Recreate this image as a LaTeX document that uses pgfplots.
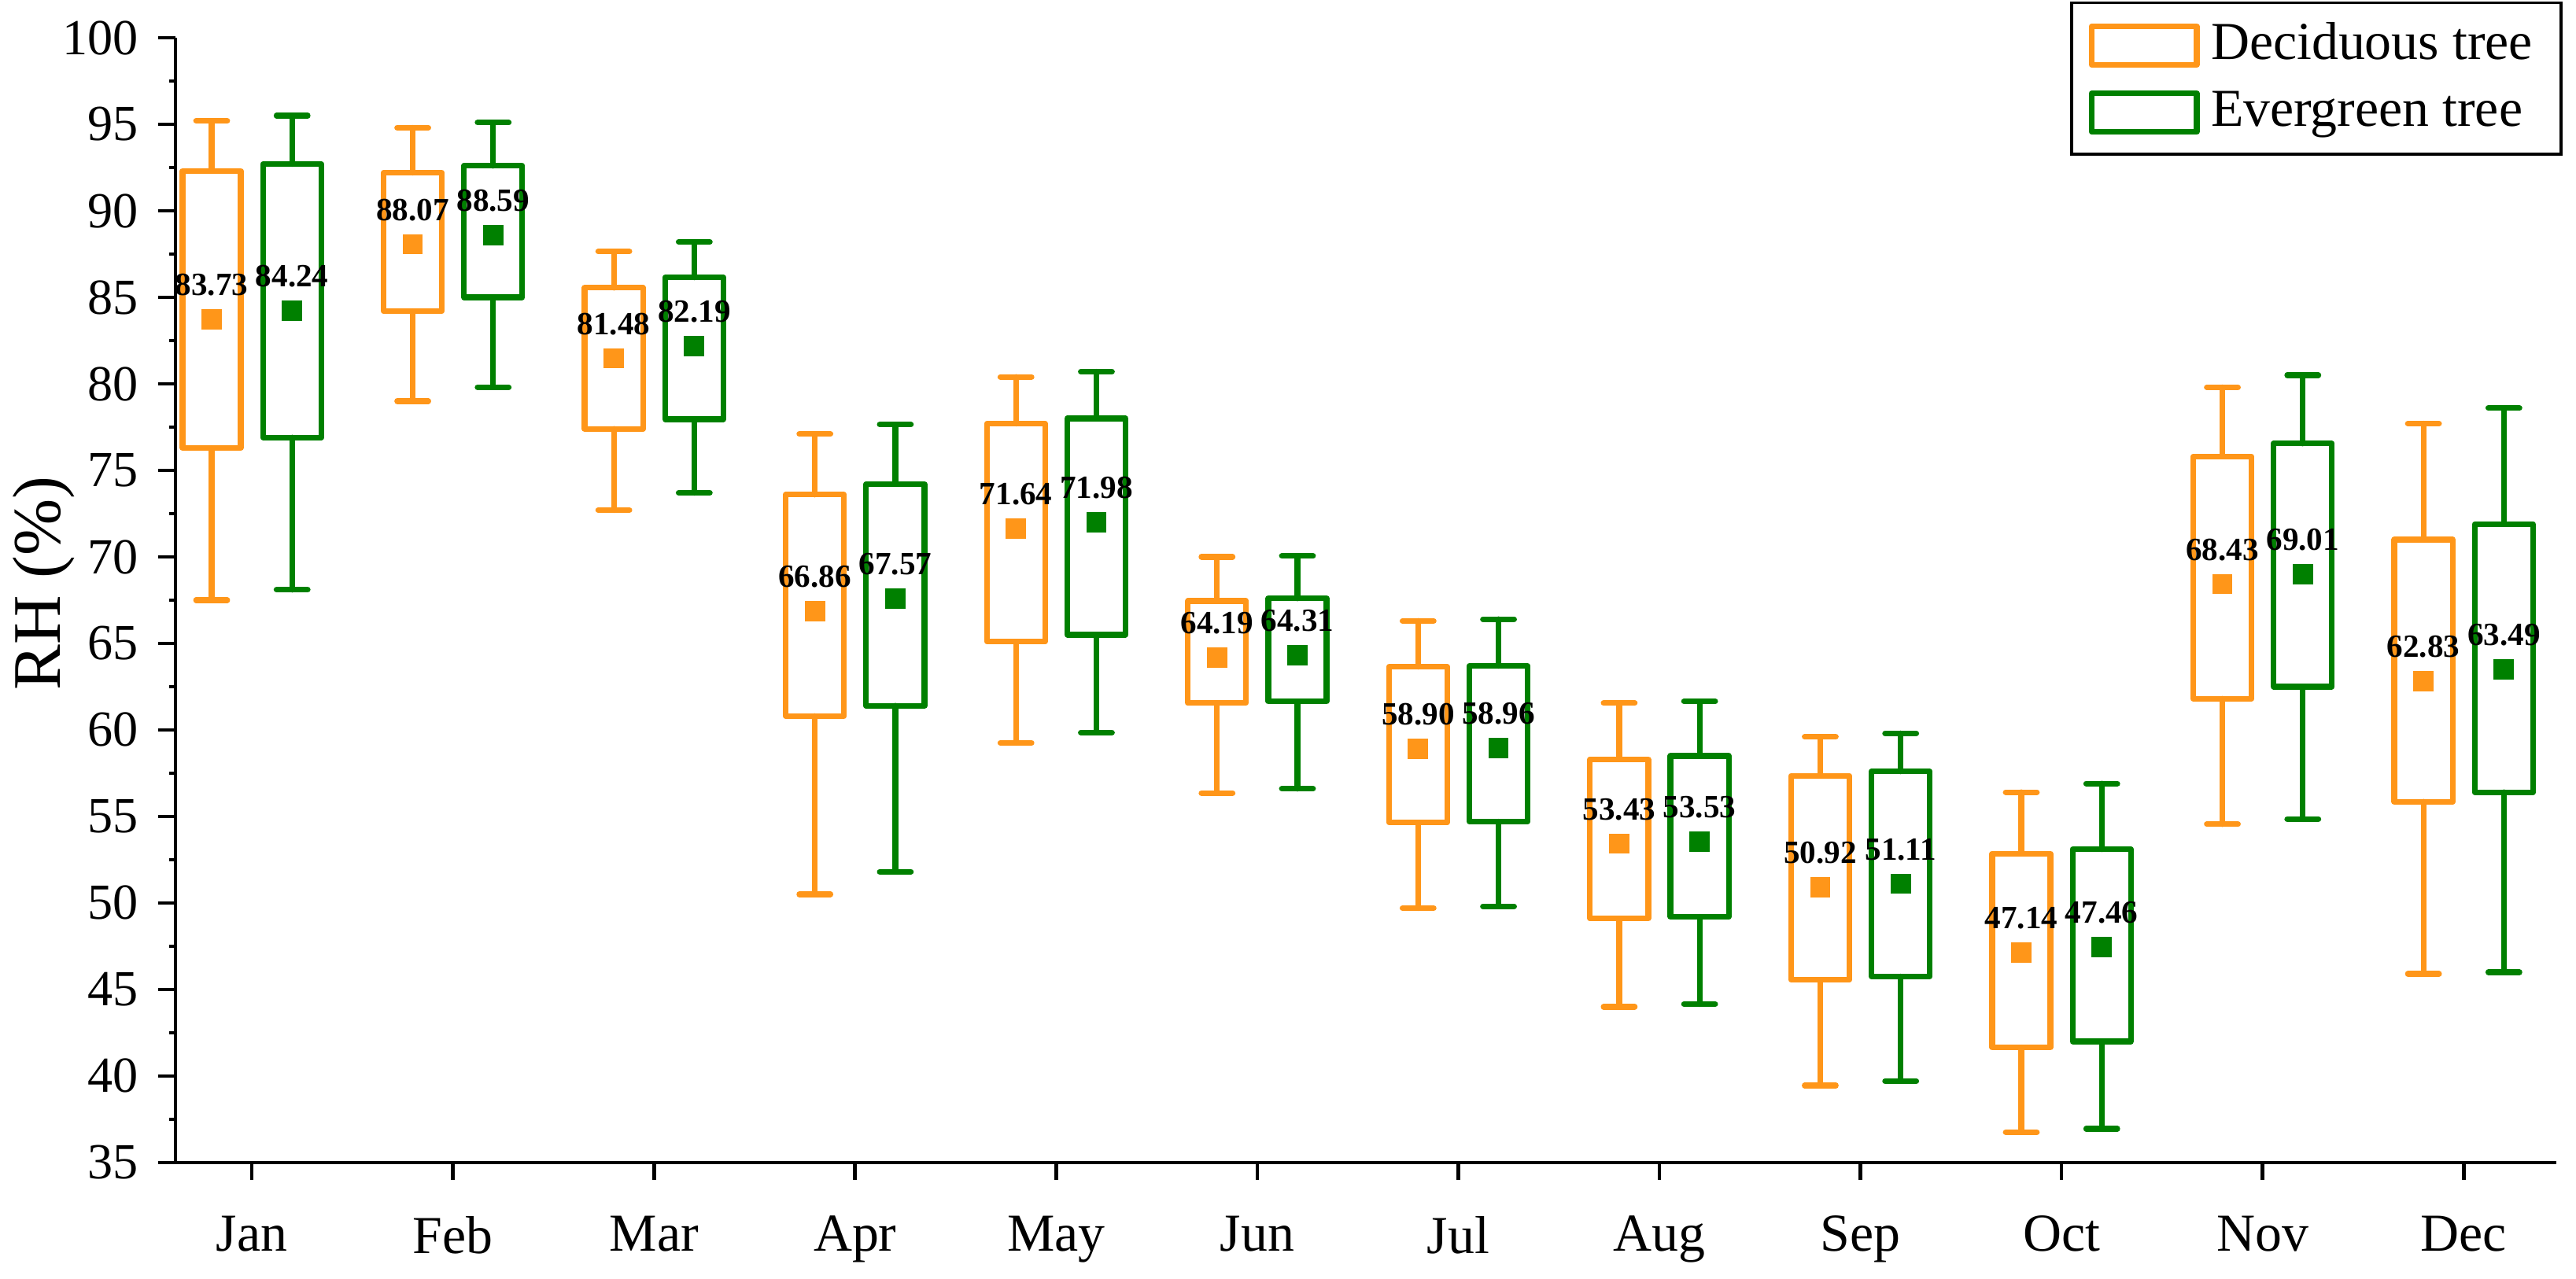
\documentclass[border=0pt]{standalone}
\usepackage{fontspec}
\setmainfont{Liberation Serif}
\usepackage{pgfplots}
\usepackage{pgfplotstable}
\pgfplotsset{compat=1.18}
\usepgfplotslibrary{statistics}
\definecolor{dorange}{RGB}{255,150,25}
\definecolor{dgreen}{RGB}{0,128,0}

\pgfplotstableread{
x y lab
-0.2 83.73 83.73
0.8 88.07 88.07
1.8 81.48 81.48
2.8 66.86 66.86
3.8 71.64 71.64
4.8 64.19 64.19
5.8 58.90 58.90
6.8 53.43 53.43
7.8 50.92 50.92
8.8 47.14 47.14
9.8 68.43 68.43
10.8 62.83 62.83
}\meanD

\pgfplotstableread{
x y lab
0.2 84.24 84.24
1.2 88.59 88.59
2.2 82.19 82.19
3.2 67.57 67.57
4.2 71.98 71.98
5.2 64.31 64.31
6.2 58.96 58.96
7.2 53.53 53.53
8.2 51.11 51.11
9.2 47.46 47.46
10.2 69.01 69.01
11.2 63.49 63.49
}\meanE

% #1 colour, #2 position, #3 lower whisker, #4 lower quartile, #5 upper quartile, #6 upper whisker
\newcommand{\boxp}[6]{%
  \addplot+[forget plot, mark=none, draw=#1, line width=1pt, solid, line join=round, line cap=round,
    boxplot prepared={draw position=#2,
    lower whisker=#3, lower quartile=#4, median=#4,
    upper quartile=#5, upper whisker=#6}] coordinates {};}

\begin{document}
\begin{tikzpicture}
\begin{axis}[
  scale only axis,
  width=419.2pt, height=198.1pt,
  xmin=-0.38, xmax=11.46, ymin=35, ymax=100,
  clip=false,
  axis x line*=bottom, axis y line*=left,
  axis line style={line width=0.65pt, black},
  tick align=outside,
  major tick length=3pt, minor tick length=1.1pt,
  tick style={line width=0.65pt, black},
  xtick={0,...,11},
  xticklabels={Jan,Feb,Mar,Apr,May,Jun,Jul,Aug,Sep,Oct,Nov,Dec},
  xticklabel style={yshift=-2.9pt, font=\fontsize{9.4}{11}\selectfont},
  ytick={35,40,...,100},
  minor y tick num=1,
  /pgf/number format/assume math mode=true,
  yticklabel style={font=\fontsize{8.9}{11}\selectfont},
  ylabel={RH (\%)},
  ylabel style={font=\fontsize{12}{14}\selectfont, at={(axis description cs:-0.0552,0.515)}, anchor=center},
  boxplot/draw direction=y,
  boxplot/box extend=0.29,
  boxplot/whisker extend=0.155,
  boxplot/every median/.style={draw=none},
  legend image code/.code={\draw[#1] (0pt,-3.4pt) rectangle (18.5pt,3.4pt);},
  legend style={at={(rel axis cs:1,1)}, anchor=north east, xshift=1.1pt, yshift=6.4pt,
    draw=black, line width=0.5pt, font=\fontsize{9.4}{11}\selectfont,
    row sep=0pt, inner xsep=3pt, inner ysep=1.5pt},
  legend cell align=left,
]
\addlegendimage{draw=dorange, line width=1pt, line join=round}
\addlegendentry{Deciduous tree}
\addlegendimage{draw=dgreen, line width=1pt, line join=round}
\addlegendentry{Evergreen tree}

\boxp{dorange}{-0.2}{67.5}{76.3}{92.3}{95.2}
\boxp{dgreen}{0.2}{68.1}{76.9}{92.7}{95.5}
\boxp{dorange}{0.8}{79.0}{84.2}{92.2}{94.8}
\boxp{dgreen}{1.2}{79.8}{85.0}{92.6}{95.1}
\boxp{dorange}{1.8}{72.7}{77.4}{85.55}{87.65}
\boxp{dgreen}{2.2}{73.7}{77.95}{86.15}{88.2}
\boxp{dorange}{2.8}{50.5}{60.8}{73.6}{77.1}
\boxp{dgreen}{3.2}{51.8}{61.4}{74.2}{77.65}
\boxp{dorange}{3.8}{59.25}{65.1}{77.7}{80.4}
\boxp{dgreen}{4.2}{59.85}{65.5}{78.0}{80.7}
\boxp{dorange}{4.8}{56.35}{61.55}{67.45}{70.0}
\boxp{dgreen}{5.2}{56.6}{61.65}{67.6}{70.05}
\boxp{dorange}{5.8}{49.7}{54.65}{63.65}{66.3}
\boxp{dgreen}{6.2}{49.8}{54.7}{63.7}{66.4}
\boxp{dorange}{6.8}{44.0}{49.1}{58.3}{61.55}
\boxp{dgreen}{7.2}{44.15}{49.2}{58.5}{61.65}
\boxp{dorange}{7.8}{39.45}{45.55}{57.35}{59.6}
\boxp{dgreen}{8.2}{39.7}{45.75}{57.6}{59.8}
\boxp{dorange}{8.8}{36.75}{41.65}{52.85}{56.4}
\boxp{dgreen}{9.2}{36.95}{42.0}{53.1}{56.9}
\boxp{dorange}{9.8}{54.55}{61.8}{75.8}{79.8}
\boxp{dgreen}{10.2}{54.85}{62.5}{76.55}{80.5}
\boxp{dorange}{10.8}{45.9}{55.85}{71.0}{77.7}
\boxp{dgreen}{11.2}{46.0}{56.4}{71.9}{78.6}

\addplot[forget plot, only marks, mark=square*, mark size=1.72pt, color=dorange,
  mark options={fill=dorange, draw=dorange, line width=0pt},
  point meta=explicit symbolic,
  nodes near coords,
  nodes near coords style={font=\bfseries\fontsize{5.7}{6}\selectfont, text=black, anchor=south, yshift=0.8pt}]
  table[x=x, y=y, meta=lab] {\meanD};
\addplot[forget plot, only marks, mark=square*, mark size=1.72pt, color=dgreen,
  mark options={fill=dgreen, draw=dgreen, line width=0pt},
  point meta=explicit symbolic,
  nodes near coords,
  nodes near coords style={font=\bfseries\fontsize{5.7}{6}\selectfont, text=black, anchor=south, yshift=0.8pt}]
  table[x=x, y=y, meta=lab] {\meanE};
\end{axis}
\pgfresetboundingbox
\path[use as bounding box] ([xshift=-30.9pt,yshift=-20.4pt]current axis.south west) rectangle ([xshift=3.5pt,yshift=6.65pt]current axis.north east);
\end{tikzpicture}
\end{document}
